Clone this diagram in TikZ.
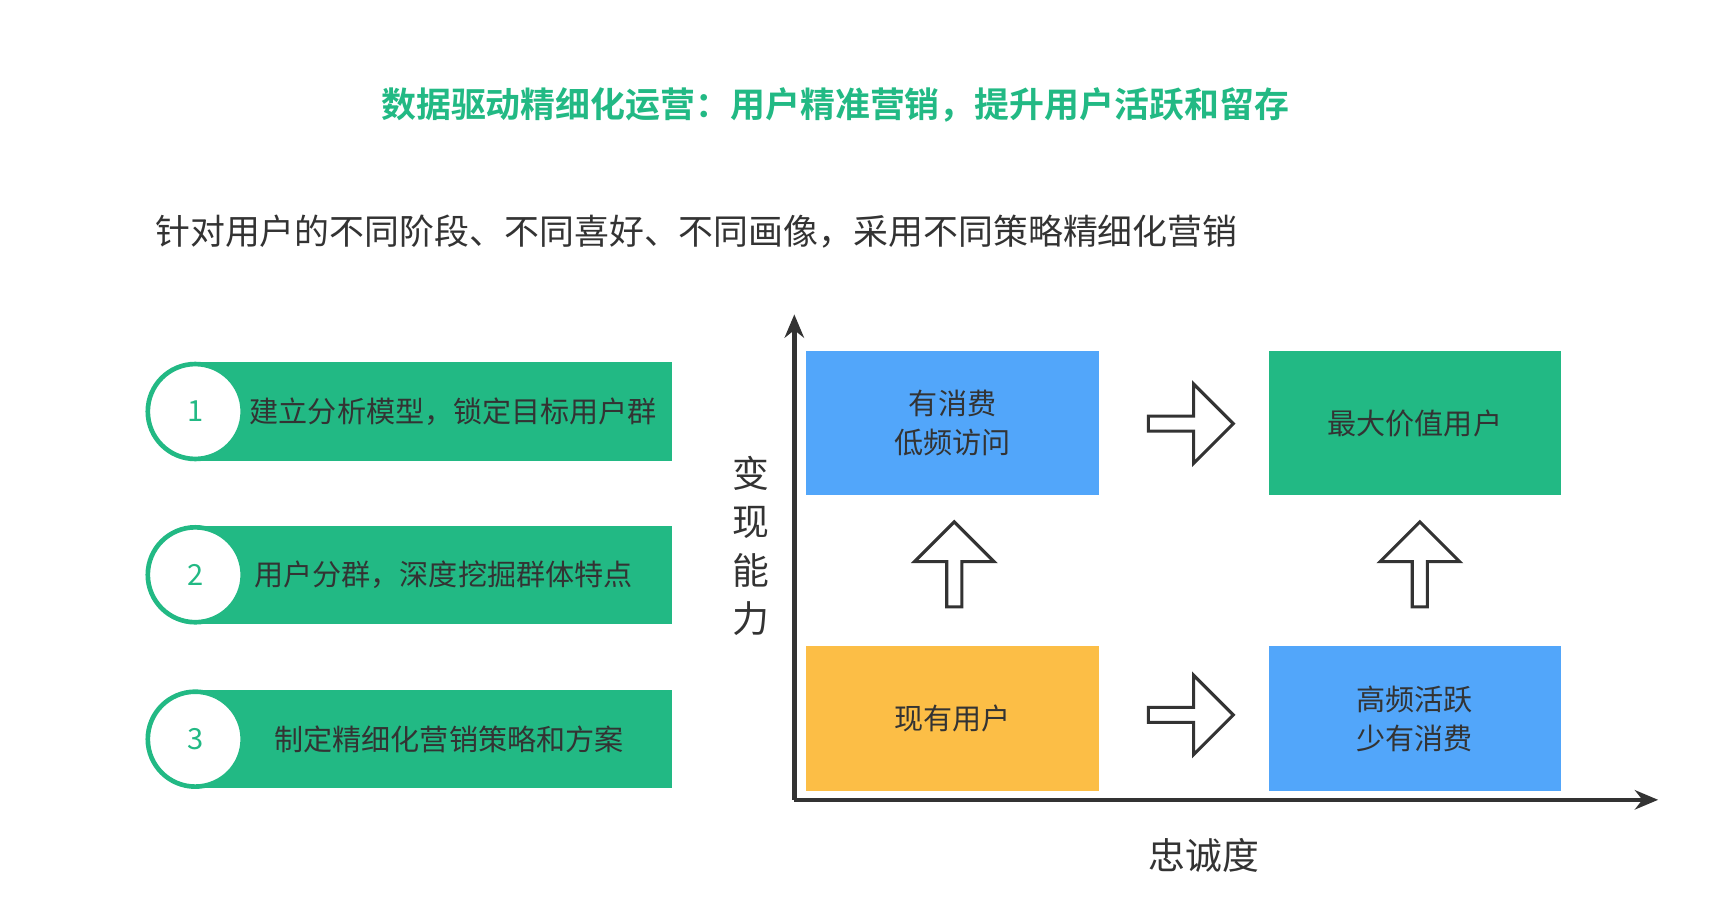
\documentclass[tikz,border=0pt]{standalone}
\usepackage{fontspec}
\setmainfont{Noto Sans CJK SC}
\newfontfamily\boldcjk{Noto Sans CJK SC Bold}
\usepackage{tikz}
\usetikzlibrary{positioning,shapes.arrows,arrows.meta}
\definecolor{mygreen}{RGB}{34,185,132}
\definecolor{myblue}{RGB}{82,166,250}
\definecolor{myyellow}{RGB}{252,190,70}
\definecolor{mytext}{RGB}{51,51,51}
\tikzset{bar node/.style={fill=mygreen,minimum width=4.33cm,minimum height=0.89cm,inner sep=0pt,text=mytext,font=\fontsize{7.5}{9}\selectfont},
num node/.style={circle,fill=white,draw=mygreen,line width=1.2pt,minimum size=0.86cm,inner sep=0pt,text=mygreen,font=\fontsize{7.5}{9}\selectfont},
quad node/.style={minimum width=2.65cm,minimum height=1.31cm,inner sep=0pt,text=mytext,align=center,font=\fontsize{7.5}{10}\selectfont},
move arrow/.style={single arrow,draw=mytext,fill=white,line width=0.8pt,minimum height=0.77cm,minimum width=0.72cm,single arrow head extend=0.06cm,inner sep=0pt,single arrow tip angle=90},
}

\begin{document}
\begin{tikzpicture}[x=0.01cm,y=-0.01cm]
\useasboundingbox (0,0) rectangle (1560,830);

\node[text=mygreen,font=\boldcjk\fontsize{9}{11}\selectfont] (title) at (757,95) {数据驱动精细化运营：用户精准营销，提升用户活跃和留存};
\node[anchor=west,text=mytext,font=\fontsize{9}{11}\selectfont,inner sep=0pt] (sub) at (140,210) {针对用户的不同阶段、不同喜好、不同画像，采用不同策略精细化营销};

% left steps
\node[bar node,anchor=west] (b1) at (175,373) {};
\node[bar node,anchor=west] (b2) at (175,521) {};
\node[bar node,anchor=west] (b3) at (175,670) {};
\node[num node] (n1) at (177,373) {1};
\node[num node] (n2) at (177,521) {2};
\node[num node] (n3) at (177,670) {3};
\node[text=mytext,font=\fontsize{7.5}{9}\selectfont] (t1) at (411,373) {建立分析模型，锁定目标用户群};
\node[text=mytext,font=\fontsize{7.5}{9}\selectfont] (t2) at (402,521) {用户分群，深度挖掘群体特点};
\node[text=mytext,font=\fontsize{7.5}{9}\selectfont] (t3) at (407,670) {制定精细化营销策略和方案};

% axes
\coordinate (o) at (720,725);
\coordinate (ytop) at (720,285);
\coordinate (xend) at (1503,725);
\draw[mytext,line width=1.2pt,-{Stealth[length=6pt,width=5pt]}] (o) -- (ytop);
\draw[mytext,line width=1.2pt,-{Stealth[length=6pt,width=5pt]}] (o) -- (xend);
\node[text=mytext,align=center,font=\fontsize{9.5}{12.5}\selectfont] (ylab) at (681,495) {变\\现\\能\\力};
\node[text=mytext,font=\fontsize{9.5}{11}\selectfont] (xlab) at (1091,775) {忠诚度};

% quadrants
\node[quad node,fill=myblue] (q1) at (863.5,383.5) {有消费\\低频访问};
\node[quad node,fill=mygreen] (q2) at (1282.5,383.5) {最大价值用户};
\node[quad node,fill=myyellow] (q3) at (863.5,651.5) {现有用户};
\node[quad node,fill=myblue] (q4) at (1282.5,651.5) {高频活跃\\少有消费};

\node[move arrow] (a1) at (1076,384) {};
\node[move arrow] (a2) at (1076,648) {};
\node[move arrow,shape border rotate=90] (a3) at (865,515) {};
\node[move arrow,shape border rotate=90] (a4) at (1287,515) {};
\end{tikzpicture}
\end{document}
